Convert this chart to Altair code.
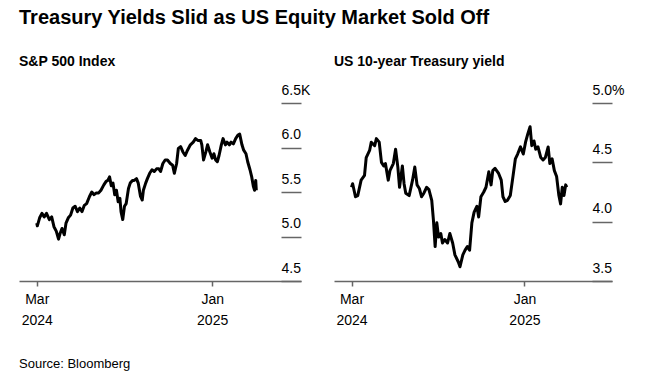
import altair as alt
import pandas as pd

TITLE = "Treasury Yields Slid as US Equity Market Sold Off"
SPX_TITLE = "S&P 500 Index"
UST_TITLE = "US 10-year Treasury yield"
SOURCE = "Source: Bloomberg"
START = "2024-03-01"
FONT = "Liberation Sans"

# S&P 500 (thousands), day offsets from START
spx_day = [0, 1, 5, 9, 13, 17, 22, 26, 30, 34, 38, 41, 44, 48, 51, 55, 59, 63, 67, 71,
           75, 79, 83, 87, 92, 96, 100, 104, 108, 112, 117, 121, 124, 127, 130, 133, 136, 139, 142, 145,
           147, 150, 153, 156, 160, 163, 167, 170, 174, 177, 181, 184, 186, 190, 193, 197, 201, 205, 209, 213,
           216, 220, 224, 228, 233, 237, 240, 244, 247, 251, 255, 259, 263, 268, 273, 277, 281, 286, 288, 291,
           295, 298, 302, 306, 309, 312, 315, 318, 322, 325, 329, 332, 336, 339, 343, 347, 351, 354, 358, 361,
           365, 368, 372, 375, 378, 380, 382, 383]
spx_val = [5.15, 5.12, 5.21, 5.26, 5.22, 5.26, 5.19, 5.22, 5.11, 5.06, 4.97, 5.04, 5.09, 5.02, 5.15, 5.21, 5.24, 5.32, 5.34, 5.28,
           5.32, 5.28, 5.35, 5.37, 5.45, 5.50, 5.47, 5.49, 5.49, 5.52, 5.58, 5.62, 5.63, 5.67, 5.57, 5.60, 5.47, 5.52, 5.39, 5.43,
           5.28, 5.19, 5.34, 5.37, 5.54, 5.60, 5.63, 5.63, 5.65, 5.60, 5.45, 5.41, 5.52, 5.60, 5.65, 5.71, 5.75, 5.73, 5.76, 5.76,
           5.73, 5.82, 5.86, 5.86, 5.82, 5.80, 5.71, 5.82, 5.99, 6.01, 5.95, 5.91, 5.97, 6.03, 6.06, 6.10, 6.08, 6.08, 6.03, 5.86,
           5.95, 6.03, 5.95, 5.88, 5.93, 5.86, 5.84, 5.91, 6.03, 6.10, 6.03, 6.06, 6.03, 6.06, 6.04, 6.10, 6.14, 6.15, 6.03, 5.97,
           5.93, 5.84, 5.75, 5.67, 5.56, 5.52, 5.63, 5.52]

# US 10-year Treasury yield (%), day offsets from START
ust_day = [0, 2, 7, 11, 17, 23, 26, 32, 35, 41, 44, 49, 53, 57, 60, 65, 68, 74, 78, 82,
           85, 90, 93, 96, 102, 108, 112, 116, 120, 124, 128, 133, 137, 142, 145, 148, 151, 154, 158, 161,
           165, 170, 174, 179, 183, 189, 192, 197, 201, 205, 209, 213, 217, 222, 225, 229, 234, 238, 243, 247,
           250, 254, 260, 265, 268, 272, 276, 281, 286, 290, 294, 299, 304, 308, 312, 316, 319, 323, 326, 330,
           335, 339, 343, 348, 351, 355, 359, 363, 367, 370, 373, 376, 379, 381]
ust_val = [4.29, 4.32, 4.21, 4.22, 4.35, 4.39, 4.54, 4.60, 4.67, 4.64, 4.70, 4.67, 4.50, 4.47, 4.49, 4.35, 4.43, 4.49, 4.61, 4.46,
           4.29, 4.47, 4.32, 4.24, 4.22, 4.35, 4.46, 4.31, 4.28, 4.21, 4.24, 4.29, 4.27, 4.18, 4.01, 3.79, 3.99, 3.87, 3.90, 3.82,
           3.85, 3.82, 3.90, 3.82, 3.72, 3.66, 3.62, 3.72, 3.76, 3.79, 3.76, 3.99, 4.08, 4.13, 4.04, 4.21, 4.25, 4.29, 4.42, 4.31,
           4.43, 4.45, 4.41, 4.35, 4.21, 4.17, 4.18, 4.22, 4.39, 4.53, 4.57, 4.63, 4.57, 4.67, 4.74, 4.80, 4.64, 4.68, 4.61, 4.63,
           4.54, 4.52, 4.54, 4.63, 4.49, 4.53, 4.43, 4.38, 4.22, 4.15, 4.29, 4.22, 4.31, 4.29]

x_ticks = [(2024, 3, 1), (2025, 1, 1)]
x_domain = [(2024, 1, 30), (2025, 6, 5)]
spx_ticks = [4.5, 5.0, 5.5, 6.0, 6.5]
ust_ticks = [3.5, 4.0, 4.5, 5.0]


def to_dates(days):
    return (pd.Timestamp(START) + pd.to_timedelta(days, unit="D")).strftime("%Y-%m-%d")


spx_df = pd.DataFrame({"date": to_dates(spx_day), "value": spx_val})
ust_df = pd.DataFrame({"date": to_dates(ust_day), "value": ust_val})
src_df = pd.DataFrame({"t": [SOURCE]})

AX = "#666666"


def dt(t):
    return alt.DateTime(year=t[0], month=t[1], date=t[2])


x_axis = alt.Axis(
    values=[dt(t) for t in x_ticks],
    labelExpr="[timeFormat(datum.value, '%b'), timeFormat(datum.value, '%Y')]",
    domain=True, domainColor=AX, domainWidth=1.5,
    ticks=True, tickSize=5, tickColor=AX, tickWidth=1.5,
    grid=False, title=None,
    labelFont=FONT, labelFontSize=14, labelColor="black",
    labelPadding=6, labelLineHeight=21, labelBaseline="top", labelAlign="center",
)


def y_axis(ticks, top_label):
    return alt.Axis(
        orient="right", values=ticks, offset=-20,
        domain=False, grid=False, title=None,
        ticks=True, tickSize=20, tickColor=AX, tickWidth=1.5,
        labelAlign="left", labelBaseline="alphabetic", labelPadding=-20, labelOffset=-9,
        labelExpr=f"datum.value == {ticks[-1]} ? '{top_label}' : format(datum.value, '.1f')",
        labelFont=FONT, labelFontSize=14, labelColor="black", labelOverlap=False,
    )


def panel_title(text):
    return alt.TitleParams(text, anchor="start", frame="group", font=FONT, fontSize=14,
                           fontWeight="bold", color="black", baseline="alphabetic", offset=3)


def line_chart(df, ticks, top_label):
    return alt.Chart(df).mark_line(color="black", strokeWidth=3, strokeJoin="round").encode(
        x=alt.X("date:T", axis=x_axis,
                scale=alt.Scale(domain=[dt(t) for t in x_domain], nice=False)),
        y=alt.Y("value:Q", axis=y_axis(ticks, top_label),
                scale=alt.Scale(domain=[ticks[0], ticks[-1]], nice=False, zero=False)),
    )


source = alt.Chart(src_df).mark_text(align="left", baseline="alphabetic", font=FONT,
                                     fontSize=13, color="black").encode(
    text="t:N", x=alt.value(0), y=alt.value(265))

left = alt.layer(line_chart(spx_df, spx_ticks, "6.5K"), source).properties(
    width=282, height=178, title=panel_title(SPX_TITLE))
right = line_chart(ust_df, ust_ticks, "5.0%").properties(
    width=278, height=178, title=panel_title(UST_TITLE))

chart = alt.hconcat(left, right, spacing=33, bounds="flush").properties(
    title=alt.TitleParams(TITLE, anchor="start", font=FONT, fontSize=20, fontWeight="bold",
                          color="black", baseline="alphabetic", offset=11),
    padding={"left": 11, "top": 0, "right": 5, "bottom": 5},
    background="white",
).configure_view(stroke=None)

chart.save("out.html", embed_options={"renderer": "svg", "actions": False})
